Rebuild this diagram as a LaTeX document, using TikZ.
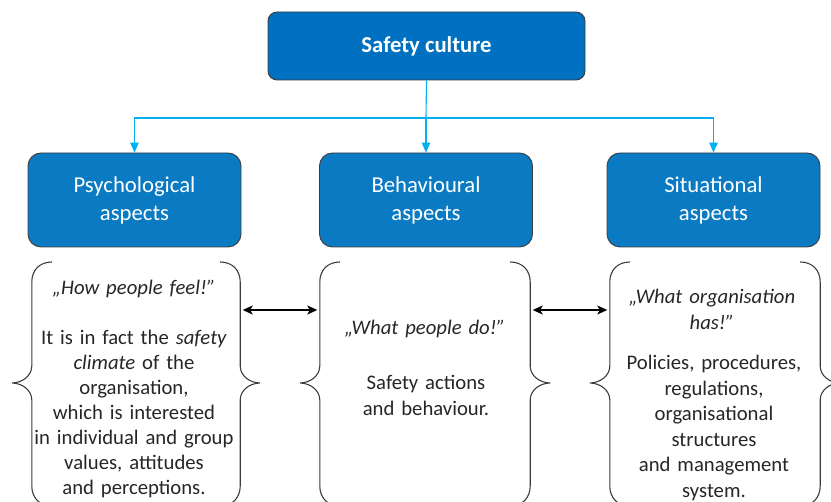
\documentclass[tikz,border=0pt]{standalone}
\usepackage{fontspec}
\setmainfont{Carlito}
\usetikzlibrary{arrows.meta}
\definecolor{topblue}{HTML}{0070C0}
\definecolor{midblue}{HTML}{0A7AC3}
\definecolor{linkblue}{HTML}{00B0F0}
\definecolor{edgegray}{HTML}{3C3C3C}
\definecolor{txtgray}{HTML}{262626}
\begin{document}
\begin{tikzpicture}[x=1pt,y=-1pt,
  headbox/.style={draw=edgegray, line width=0.9pt, fill=topblue, rounded corners=9pt,
    minimum width=317pt, minimum height=68pt, inner sep=0pt, text=white,
    font=\fontsize{22.7}{28}\selectfont\bfseries},
  aspectbox/.style={draw=edgegray, line width=0.9pt, fill=midblue, rounded corners=13pt,
    minimum width=213pt, minimum height=94pt, inner sep=0pt, text=white, align=center,
    font=\fontsize{22.7}{28}\selectfont},
  conn/.style={draw=linkblue, line width=1.1pt},
  connarrow/.style={conn, -{Triangle[width=8.5pt,length=10pt]}},
  biarrow/.style={draw=black, line width=1.2pt,
    {Stealth[length=10pt,width=9pt,inset=2.5pt]}-{Stealth[length=10pt,width=9pt,inset=2.5pt]},
    shorten <=2.5pt, shorten >=2.5pt},
  groupbox/.style={draw=none, inner sep=0pt, minimum height=242pt},
  bracepath/.style={draw=edgegray, line width=1.1pt},
  quotetext/.style={text=txtgray, font=\fontsize{20.7}{26}\selectfont\itshape,
    text width=240pt, align=center, anchor=base, inner sep=0pt},
  bodytext/.style={text=txtgray, font=\fontsize{20.7}{25.5}\selectfont,
    text width=240pt, align=center, anchor=base, inner sep=0pt},
  lbrace/.pic={\draw[bracepath] (20,-121) .. controls (8,-121) and (0,-113) .. (0,-101)
      -- (0,-17) .. controls (0,-7) and (-10,0) .. (-20,0)
      .. controls (-10,0) and (0,7) .. (0,17)
      -- (0,103) .. controls (0,115) and (8,123) .. (20,123);},
]
\useasboundingbox (0,0) rectangle (831,502);
\clip (0,0) rectangle (831,502);

% boxes
\node[headbox] (top) at (426.5,46) {Safety culture};
\node[aspectbox] (psy) at (134.5,200) {Psychological\\aspects};
\node[aspectbox] (beh) at (426,200) {Behavioural\\aspects};
\node[aspectbox] (sit) at (713.5,200) {Situational\\aspects};

% blue connectors
\coordinate (bus) at (426,118);
\draw[conn] (top.south) -- (bus);
\draw[connarrow] (bus) -| (psy.north);
\draw[connarrow] (bus) -- (beh.north);
\draw[connarrow] (bus) -| (sit.north);

% groups with braces
\node[groupbox, minimum width=208pt] (grpL) at (136,383) {};
\node[groupbox, minimum width=210pt] (grpM) at (425,383) {};
\node[groupbox, minimum width=210pt] (grpR) at (715,383) {};
\coordinate (notch) at (0,383);
\pic at (grpL.west |- notch) {lbrace};
\pic[xscale=-1] at (grpL.east |- notch) {lbrace};
\pic at (grpM.west |- notch) {lbrace};
\pic[xscale=-1] at (grpM.east |- notch) {lbrace};
\pic at (grpR.west |- notch) {lbrace};
\pic[xscale=-1] at (grpR.east |- notch) {lbrace};

% double arrows
\coordinate (arrowrow) at (0,310);
\draw[biarrow] (grpL.east |- arrowrow) -- (grpM.west |- arrowrow);
\draw[biarrow] (grpM.east |- arrowrow) -- (grpR.west |- arrowrow);

% texts
\node[quotetext] (hL) at (134,295) {„How people feel!”};
\node[bodytext, font=\fontsize{20.7}{25}\selectfont] (bL) at (134,345) {It is in fact the \textit{safety}\\ \textit{climate} of the\\ organisation,\\ which is interested\\ in individual and group\\ values, attitudes\\ and perceptions.};
\node[quotetext] (hM) at (425,335) {„What people do!”};
\node[bodytext] (bM) at (426,390) {Safety actions\\ and behaviour.};
\node[quotetext] (hR) at (712,304) {„What organisation\\ has!”};
\node[bodytext] (bR) at (714,370) {Policies, procedures,\\ regulations,\\ organisational\\ structures\\ and management\\ system.};
\end{tikzpicture}
\end{document}
